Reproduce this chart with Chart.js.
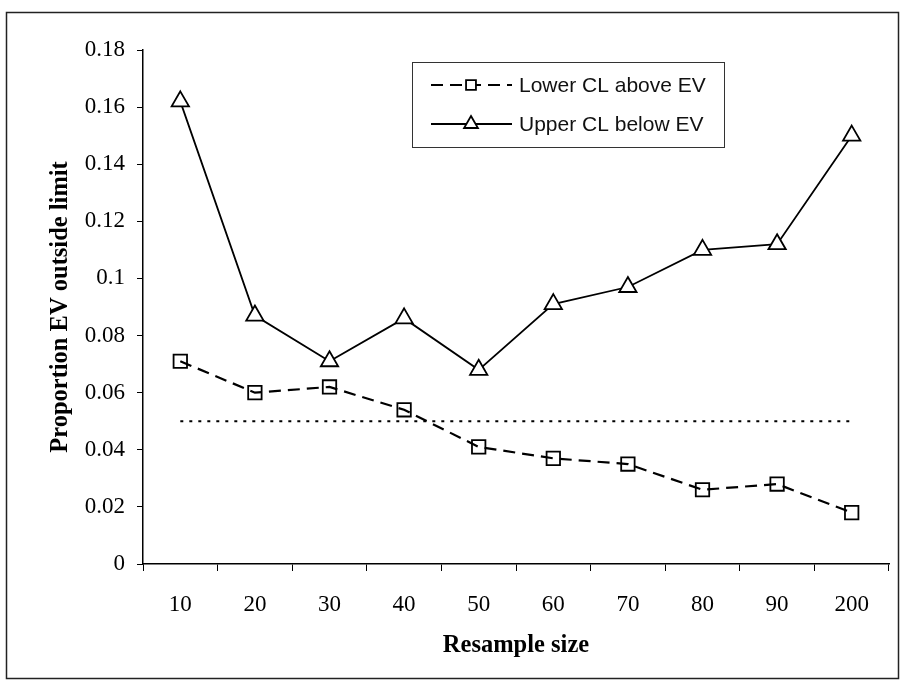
<!DOCTYPE html>
<html>
<head>
<meta charset="utf-8">
<script src="https://cdn.jsdelivr.net/npm/chart.js@4"></script>
<style>
  html, body { margin: 0; padding: 0; background: #fff; }
  #wrap { position: relative; width: 903px; height: 681px; }
</style>
</head>
<body>
<div id="wrap"><canvas id="chart" width="903" height="681"></canvas></div>
<script>
// ── 데이터 ──
const sampleSizes = ['10', '20', '30', '40', '50', '60', '70', '80', '90', '200'];
const lowerAbove = [0.071, 0.060, 0.062, 0.054, 0.041, 0.037, 0.035, 0.026, 0.028, 0.018];
const upperBelow = [0.162, 0.087, 0.071, 0.086, 0.068, 0.091, 0.097, 0.110, 0.112, 0.150];
const nominal = [0.05, 0.05, 0.05, 0.05, 0.05, 0.05, 0.05, 0.05, 0.05, 0.05];
const yTicks = [0, 0.02, 0.04, 0.06, 0.08, 0.1, 0.12, 0.14, 0.16, 0.18];

const SERIF = '"Liberation Serif", "Times New Roman", serif';
const SANS = '"Liberation Sans", Arial, sans-serif';

// ── 바깥 테두리 + 범례 ──
const framePlugin = {
  id: 'frame',
  beforeDraw(chart) {
    const c = chart.ctx;
    c.save();
    c.fillStyle = '#fff';
    c.fillRect(0, 0, chart.width, chart.height);
    c.strokeStyle = '#222';
    c.lineWidth = 1.5;
    c.strokeRect(6.5, 12.5, 892, 666);
    c.restore();
  },
  afterDraw(chart) {
    const c = chart.ctx;
    c.save();
    c.strokeStyle = '#333';
    c.lineWidth = 1;
    c.strokeRect(412.5, 62.5, 312, 85);

    const items = [
      { ds: chart.data.datasets[0], y: 85 },
      { ds: chart.data.datasets[1], y: 124 }
    ];
    items.forEach(({ ds, y }) => {
      c.strokeStyle = '#000';
      c.lineWidth = 1.8;
      c.setLineDash(ds.borderDash || []);
      c.beginPath();
      c.moveTo(431, y);
      c.lineTo(512, y);
      c.stroke();
      c.setLineDash([]);
      c.fillStyle = '#fff';
      c.strokeStyle = '#000';
      Chart.helpers.drawPoint(c, {
        pointStyle: ds.pointStyle, radius: ds.pointStyle === 'rect' ? 7 : 8,
        borderWidth: 1.8, rotation: 0
      }, 471, y);
      c.fillStyle = '#111';
      c.font = '21px ' + SANS;
      c.textBaseline = 'middle';
      c.fillText(ds.label, 519, y + 1);
    });
    c.restore();
  }
};

new Chart(document.getElementById('chart'), {
  type: 'line',
  data: {
    labels: sampleSizes,
    datasets: [
      {
        label: 'Lower CL above EV', data: lowerAbove,
        borderColor: '#000', borderWidth: 2.2, borderDash: [12, 7],
        pointStyle: 'rect', pointRadius: 9.5, pointBorderWidth: 1.8,
        pointBackgroundColor: 'rgba(255,255,255,0)', pointBorderColor: '#000', tension: 0
      },
      {
        label: 'Upper CL below EV', data: upperBelow,
        borderColor: '#000', borderWidth: 1.8,
        pointStyle: 'triangle', pointRadius: 10, pointBorderWidth: 1.8,
        pointBackgroundColor: '#fff', pointBorderColor: '#000', tension: 0
      },
      {
        label: 'nominal', data: nominal,
        borderColor: '#000', borderWidth: 2, borderDash: [3, 6],
        pointRadius: 0, tension: 0
      }
    ]
  },
  options: {
    responsive: false, animation: false,
    layout: { padding: { left: 0, top: 50, right: 14, bottom: 0 } },
    plugins: { legend: { display: false }, tooltip: { enabled: false } },
    scales: {
      x: {
        offset: true,
        grid: { offset: true, drawOnChartArea: false, drawTicks: true, tickLength: 7, color: '#000' },
        border: { display: true, color: '#000', width: 1.5 },
        ticks: { color: '#000', font: { family: SERIF, size: 23 }, padding: 20, maxRotation: 0 },
        title: { display: true, text: 'Resample size', color: '#000', font: { family: SERIF, size: 24.5, weight: 'bold' }, padding: { top: 8, bottom: 21 } },
        afterFit: s => { s.height = 681 - 564; }
      },
      y: {
        min: 0, max: 0.18,
        afterBuildTicks: s => { s.ticks = yTicks.map(v => ({ value: v })); },
        grid: { drawOnChartArea: false, drawTicks: true, tickLength: 6, color: '#000' },
        border: { display: true, color: '#000', width: 1.5 },
        ticks: { color: '#000', font: { family: SERIF, size: 23 }, padding: 12, callback: v => String(+v.toFixed(2)) },
        title: { display: true, text: 'Proportion EV outside limit', color: '#000', font: { family: SERIF, size: 24.5, weight: 'bold' }, padding: { top: 46 } },
        afterFit: s => { s.width = 143; }
      }
    }
  },
  plugins: [framePlugin]
});
</script>
</body>
</html>
